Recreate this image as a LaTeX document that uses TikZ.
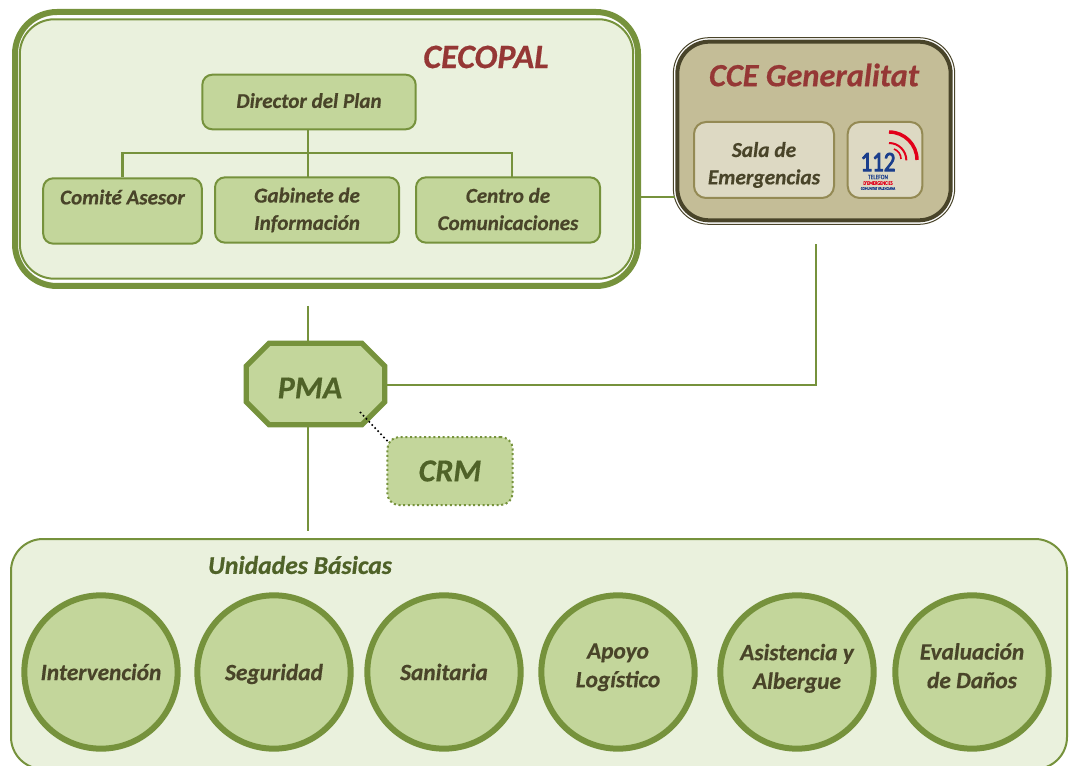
\documentclass[tikz,border=0pt]{standalone}
\usepackage{fontspec}
\setmainfont[BoldItalicFeatures={FakeBold=0.5}]{Carlito}
\newfontfamily\logofont[FakeBold=1.2,FakeStretch=0.82]{Carlito}
\newfontfamily\logoheavy[FakeBold=3,FakeStretch=0.82]{Carlito}
\usepackage{tikz}
\usetikzlibrary{calc}
\usetikzlibrary{positioning}
\definecolor{frame}{HTML}{76923C}
\definecolor{pale}{HTML}{EAF1DD}
\definecolor{leaf}{HTML}{C3D69B}
\definecolor{ink}{HTML}{4F6228}
\definecolor{bark}{HTML}{494429}
\definecolor{wine}{HTML}{953735}
\definecolor{sand}{HTML}{C4BD97}
\definecolor{cream}{HTML}{DDD9C3}
\definecolor{olive}{HTML}{948A54}
\definecolor{logored}{HTML}{E2001A}
\definecolor{logoblue}{HTML}{1A3E8C}

\begin{document}
\begin{tikzpicture}[x=0.75pt,y=-0.75pt,on grid,
		txt/.style={font=\bfseries\itshape,align=center,inner sep=0pt},
		office/.style={rectangle,rounded corners=7.5pt,draw=frame,fill=leaf,line width=1.5pt,txt,text=bark,font=\bfseries\itshape\fontsize{15.8}{20.5}\selectfont},
		room/.style={rectangle,rounded corners=9pt,draw=olive,fill=cream,line width=1.5pt,txt,text=bark,font=\bfseries\itshape\fontsize{16}{20.5}\selectfont,minimum height=57pt},
		unit/.style={circle,draw=frame,fill=leaf,line width=4.5pt,minimum size=115pt,txt,text=bark,font=\bfseries\itshape\fontsize{17.5}{21.5}\selectfont},
		link/.style={draw=frame,line width=1.7pt},
		big/.style={txt,font=\bfseries\itshape\fontsize{24}{24}\selectfont},
		logo/.style={inner sep=0pt,text=logoblue}]
		\useasboundingbox (0,0) rectangle (1074,766);

		% boxes behind everything
		\fill[white] (0,0) rectangle (1074,766);
		\node (cecopal) [rectangle,rounded corners=31.5pt,draw=frame,fill=white,line width=4.5pt,minimum width=467.25pt,minimum height=205.5pt] at (326.5,149) {};
		\node (cecopalin) [rectangle,rounded corners=26pt,draw=frame,fill=pale,line width=1.5pt,minimum width=460pt,minimum height=194.6pt] at (326.5,149) {};
		\node (cce) [rectangle,rounded corners=27pt,draw=bark,fill=white,line width=0.75pt,minimum width=211pt,minimum height=140pt] at (814,131) {};
		\node (ccein) [rectangle,rounded corners=24pt,draw=bark,fill=sand,line width=3pt,minimum width=205pt,minimum height=134pt] at (814,131) {};
		\node (basic) [rectangle,rounded corners=24pt,draw=frame,fill=pale,line width=1.5pt,minimum width=792pt,minimum height=172.5pt,anchor=north west] at (10,538) {};

		% titles
		\node[big,text=wine,font=\bfseries\itshape\fontsize{25.6}{25.6}\selectfont] (cecopaltitle) at (486,57) {CECOPAL};
		\node[big,text=wine,font=\bfseries\itshape\fontsize{24.3}{24.3}\selectfont] (ccetitle) at (814,75) {CCE Generalitat};
		\node[txt,text=ink,font=\bfseries\itshape\fontsize{19.2}{19.2}\selectfont] (basictitle) at (300,565) {Unidades Básicas};

		% plan staff
		\node[office,minimum width=160pt,minimum height=41pt,text depth=2.2pt] (director) at (309,102) {Director del Plan};
		\node[office,minimum width=119pt,minimum height=49pt] (comite) at (122.5,211) {\raisebox{21pt}{Comité Asesor}};
		\node[office,minimum width=138pt,minimum height=49pt] (gabinete) at (307,210) {Gabinete de\\Información};
		\node[office,minimum width=138pt,minimum height=49pt,text depth=1.5pt] (centro) at (508,210) {Centro de\\Comunicaciones};

		\coordinate (busleft) at (comite.north |- 0,153);
		\coordinate (busright) at (512,153);
		\coordinate (busmid) at (308,153);
		\draw[link] (busmid) -- (308,130);
		\draw[link] (busmid) -- (308,177);
		\draw[link] (comite.north) -- (busleft) -- (busright) -- (512,177);
		\draw[link] (641,197) -- (675,197);

		% emergency room
		\node[room,minimum width=105pt,text depth=0pt] (sala) at (764,160) {\rule{0pt}{16pt}Sala de\\Emergencias};
		\node[room,minimum width=56pt] (icon) at (885,160) {};
		\coordinate (arcs) at (889,160);
		\draw[logored,line width=2.6pt] ($(arcs)+(0,-28)$) arc[start angle=90,end angle=0,radius=21pt];
		\draw[logored,line width=1.5pt] ($(arcs)+(0,-17)$) arc[start angle=90,end angle=0,radius=13pt];
		\draw[logored,line width=1.2pt] ($(arcs)+(5,-11)$) arc[start angle=70,end angle=0,radius=8pt];
		\node[logo,font=\logoheavy\fontsize{21}{21}\selectfont] (num) at (878,162) {112};
		\node[logo,font=\logofont\fontsize{5}{5}\selectfont] (tel) at (878,177) {TELEFON};
		\node[logo,text=logored,font=\logofont\fontsize{4}{4}\selectfont] (eme) at (878,183) {D'EMERGENCIES};
		\node[logo,font=\logofont\fontsize{3}{3}\selectfont] (com) at (878,188.5) {COMUNITAT VALENCIANA};

		% command post
		\coordinate (upper) at (308,306);
		\coordinate (lower) at (308,531);
		\coordinate (rise) at (816,244);
		\node[rectangle,minimum width=103.5pt,minimum height=60.75pt,inner sep=0pt] (pma) at (315.5,384) {};
		\draw[draw=frame,fill=leaf,line width=4pt,miter limit=2]
			($(pma.north west)+(23,0)$) -- ($(pma.north east)+(-23,0)$) -- ($(pma.north east)+(0,23)$)
			-- ($(pma.south east)+(0,-23)$) -- ($(pma.south east)+(-23,0)$) -- ($(pma.south west)+(23,0)$)
			-- ($(pma.south west)+(0,-23)$) -- ($(pma.north west)+(0,23)$) -- cycle;
		\node[rectangle,rounded corners=9pt,draw=frame,dotted,fill=leaf,line width=1.5pt,minimum width=94pt,minimum height=51pt] (crm) at (450,471) {};
		\draw[link] (upper) -- (pma.north -| upper);
		\draw[link] (pma.south -| lower) -- (lower);
		\draw[link] (pma.east |- 0,385) -- (rise |- 0,385) -- (rise);
		\coordinate (tick) at (360,412);
		\coordinate (tock) at ($(crm.north west)+(2,6)$);
		\draw[black,dotted,line width=1.2pt] (tick) -- (tock);
		\node[big,text=ink] (pmatext) at (310,388) {PMA};
		\node[big,text=ink] (crmtext) at (450,471) {CRM};

		% basic units
		\node[unit] (u1) at (101,672) {Intervención};
		\node[unit,text depth=0pt] (u2) [right=129.75pt of u1] {Seguridad};
		\node[unit] (u3) [right=127.5pt of u2] {Sanitaria};
		\node[unit,text depth=10pt] (u4) [right=130.5pt of u3] {Apoyo\\Logístico};
		\node[unit,text depth=8.5pt] (u5) [right=134.25pt of u4] {Asistencia y\\Albergue};
		\node[unit,text depth=9.5pt] (u6) [right=131.25pt of u5] {Evaluación\\de Daños};
\end{tikzpicture}
\end{document}
